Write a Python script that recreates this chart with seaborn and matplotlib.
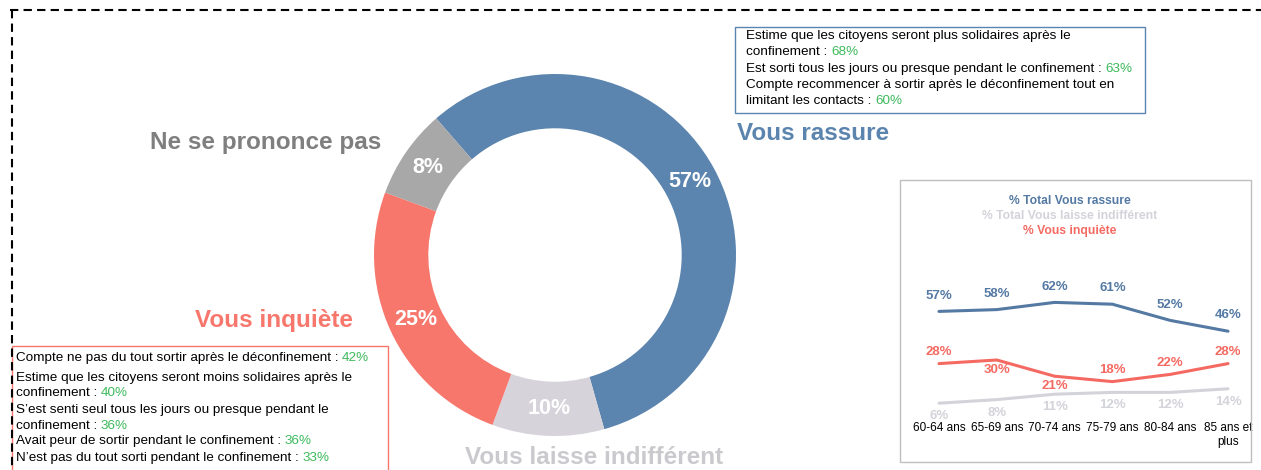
import numpy as np
import pandas as pd
import matplotlib
matplotlib.use("Agg")
import matplotlib.pyplot as plt
import seaborn as sns
from matplotlib.patches import Rectangle
from matplotlib.lines import Line2D

# --- donnees du donut ---
categories = ["Vous rassure", "Vous laisse indifférent", "Vous inquiète", "Ne se prononce pas"]
parts = [57, 10, 25, 8]
couleurs = ["#5B84AE", "#D6D3DA", "#F8776C", "#A8A8A8"]

# --- donnees par age ---
ages = ["60-64 ans", "65-69 ans", "70-74 ans", "75-79 ans", "80-84 ans", "85 ans et\nplus"]
rassure = [57, 58, 62, 61, 52, 46]
indifferent = [6, 8, 11, 12, 12, 14]
inquiete = [28, 30, 21, 18, 22, 28]
series = ["% Total Vous rassure", "% Total Vous laisse indifférent", "% Vous inquiète"]
couleurs_lignes = ["#5479A3", "#D3D3DA", "#F46A62"]
pos_inquiete = ["up", "down", "down", "up", "up", "up"]

# --- encadres ---
encadre_rassure = [
    ("Estime que les citoyens seront plus solidaires après le", None),
    ("confinement : ", "68%"),
    ("Est sorti tous les jours ou presque pendant le confinement : ", "63%"),
    ("Compte recommencer à sortir après le déconfinement tout en", None),
    ("limitant les contacts : ", "60%"),
]
encadre_inquiete = [
    ("Compte ne pas du tout sortir après le déconfinement : ", "42%"),
    ("Estime que les citoyens seront moins solidaires après le", None),
    ("confinement : ", "40%"),
    ("S’est senti seul tous les jours ou presque pendant le", None),
    ("confinement : ", "36%"),
    ("Avait peur de sortir pendant le confinement : ", "36%"),
    ("N’est pas du tout sorti pendant le confinement : ", "33%"),
]
VERT = "#3DBA5C"

sns.set_theme(style="white")
plt.rcParams['font.family'] = ['Liberation Sans', 'DejaVu Sans']

W, H = 1261, 470
fig = plt.figure(figsize=(W / 100, H / 100), dpi=100)
fig.patch.set_facecolor("white")
renderer = fig.canvas.get_renderer()


def fx(px):
    return px / W


def fy(py):
    return 1 - py / H


# cadre pointille
fig.add_artist(Line2D([fx(10), fx(1261)], [fy(10), fy(10)], color="black", lw=1.5,
                      linestyle=(0, (4, 2.5)), transform=fig.transFigure))
fig.add_artist(Line2D([fx(12), fx(12)], [fy(10), fy(470)], color="black", lw=1.5,
                      linestyle=(0, (4, 2.5)), transform=fig.transFigure))

# donut
cx, cy, r = 555, 255, 181
ax_pie = fig.add_axes([fx(cx - r), fy(cy + r), 2 * r / W, 2 * r / H])
wedges, _, autotexts = ax_pie.pie(
    parts, colors=couleurs, startangle=131, counterclock=False, radius=1,
    wedgeprops=dict(width=0.30, linewidth=0), autopct=lambda p: f"{p:.0f}%",
    pctdistance=0.85, textprops=dict(color="white", fontsize=15.5, fontweight="bold"))
ax_pie.set_xlim(-1, 1)
ax_pie.set_ylim(-1, 1)
ax_pie.set_aspect("equal")
ax_pie.axis("off")

# libelles des categories
fig.text(fx(737), fy(133), categories[0], color="#5B84AE", fontsize=17.5, fontweight="bold",
         ha="left", va="center")
fig.text(fx(381), fy(142), categories[3], color="#7F7F7F", fontsize=17.5, fontweight="bold",
         ha="right", va="center")
fig.text(fx(353), fy(320), categories[2], color="#F8776C", fontsize=17.5, fontweight="bold",
         ha="right", va="center")
fig.text(fx(594), fy(464), categories[1], color="#CACACE", fontsize=17.5, fontweight="bold",
         ha="center", va="baseline")


def ligne_riche(x_px, y_px, txt, pct, size):
    t = fig.text(fx(x_px), fy(y_px), txt, color="black", fontsize=size, ha="left", va="center")
    if pct:
        w = t.get_window_extent(renderer).width
        fig.text(fx(x_px + w), fy(y_px), pct, color=VERT, fontsize=size,
                 ha="left", va="center")


# encadre bleu
fig.add_artist(Rectangle((fx(735), fy(113)), fx(1145) - fx(735), fy(27) - fy(113),
                         fill=False, edgecolor="#5B84AE", lw=1, transform=fig.transFigure))
for i, (txt, pct) in enumerate(encadre_rassure):
    ligne_riche(746, 36 + i * 16.3, txt, pct, 9.7)

# encadre rouge
fig.add_artist(Rectangle((fx(12), fy(480)), fx(388) - fx(12), fy(346) - fy(480),
                         fill=False, edgecolor="#F8776C", lw=1, transform=fig.transFigure))
ys_rouge = [358, 378, 393, 410, 426, 441, 458]
for (txt, pct), y in zip(encadre_inquiete, ys_rouge):
    ligne_riche(16, y, txt, pct, 9.7)

# encadre graphique par age
fig.add_artist(Rectangle((fx(900), fy(462)), fx(1251) - fx(900), fy(180) - fy(462),
                         fill=False, edgecolor="#BFBFBF", lw=1, transform=fig.transFigure))
for s, col, y in zip(series, couleurs_lignes, [201, 216, 231]):
    fig.text(fx(1070), fy(y), s, color=col, fontsize=8.7, fontweight="bold", ha="center", va="center")

df = pd.DataFrame({
    "x": list(range(len(ages))) * 3,
    "valeur": rassure + indifferent + inquiete,
    "serie": [series[0]] * 6 + [series[1]] * 6 + [series[2]] * 6,
})
step = 57.8
ax_l = fig.add_axes([fx(939 - step / 2), fy(414), 6 * step / W, 126 / H])
sns.lineplot(data=df, x="x", y="valeur", hue="serie", palette=dict(zip(series, couleurs_lignes)),
             hue_order=[series[1], series[2], series[0]], linewidth=2.2, legend=False, ax=ax_l)
ax_l.set_xlim(-0.5, 5.5)
ax_l.set_ylim(0, 70)
ax_l.set_xticks(range(len(ages)))
ax_l.set_xticklabels(ages, fontsize=8.5, color="black", multialignment="center")
ax_l.tick_params(axis="x", length=0, pad=6)
ax_l.set_yticks([])
ax_l.set_xlabel("")
ax_l.set_ylabel("")
ax_l.patch.set_alpha(0)
for sp in ax_l.spines.values():
    sp.set_visible(False)

for i, v in enumerate(rassure):
    ax_l.annotate(f"{v}%", (i, v), xytext=(0, 7), textcoords="offset points", ha="center",
                  va="bottom", fontsize=9.5, fontweight="bold", color=couleurs_lignes[0])
for i, v in enumerate(indifferent):
    ax_l.annotate(f"{v}%", (i, v), xytext=(0, -5), textcoords="offset points", ha="center",
                  va="top", fontsize=9.5, fontweight="bold", color=couleurs_lignes[1])
for i, (v, p) in enumerate(zip(inquiete, pos_inquiete)):
    dy = 4 if p == "up" else -3
    ax_l.annotate(f"{v}%", (i, v), xytext=(0, dy), textcoords="offset points", ha="center",
                  va="bottom" if p == "up" else "top", fontsize=9.5, fontweight="bold",
                  color=couleurs_lignes[2])

fig.savefig("out.png", dpi=100, facecolor="white")
